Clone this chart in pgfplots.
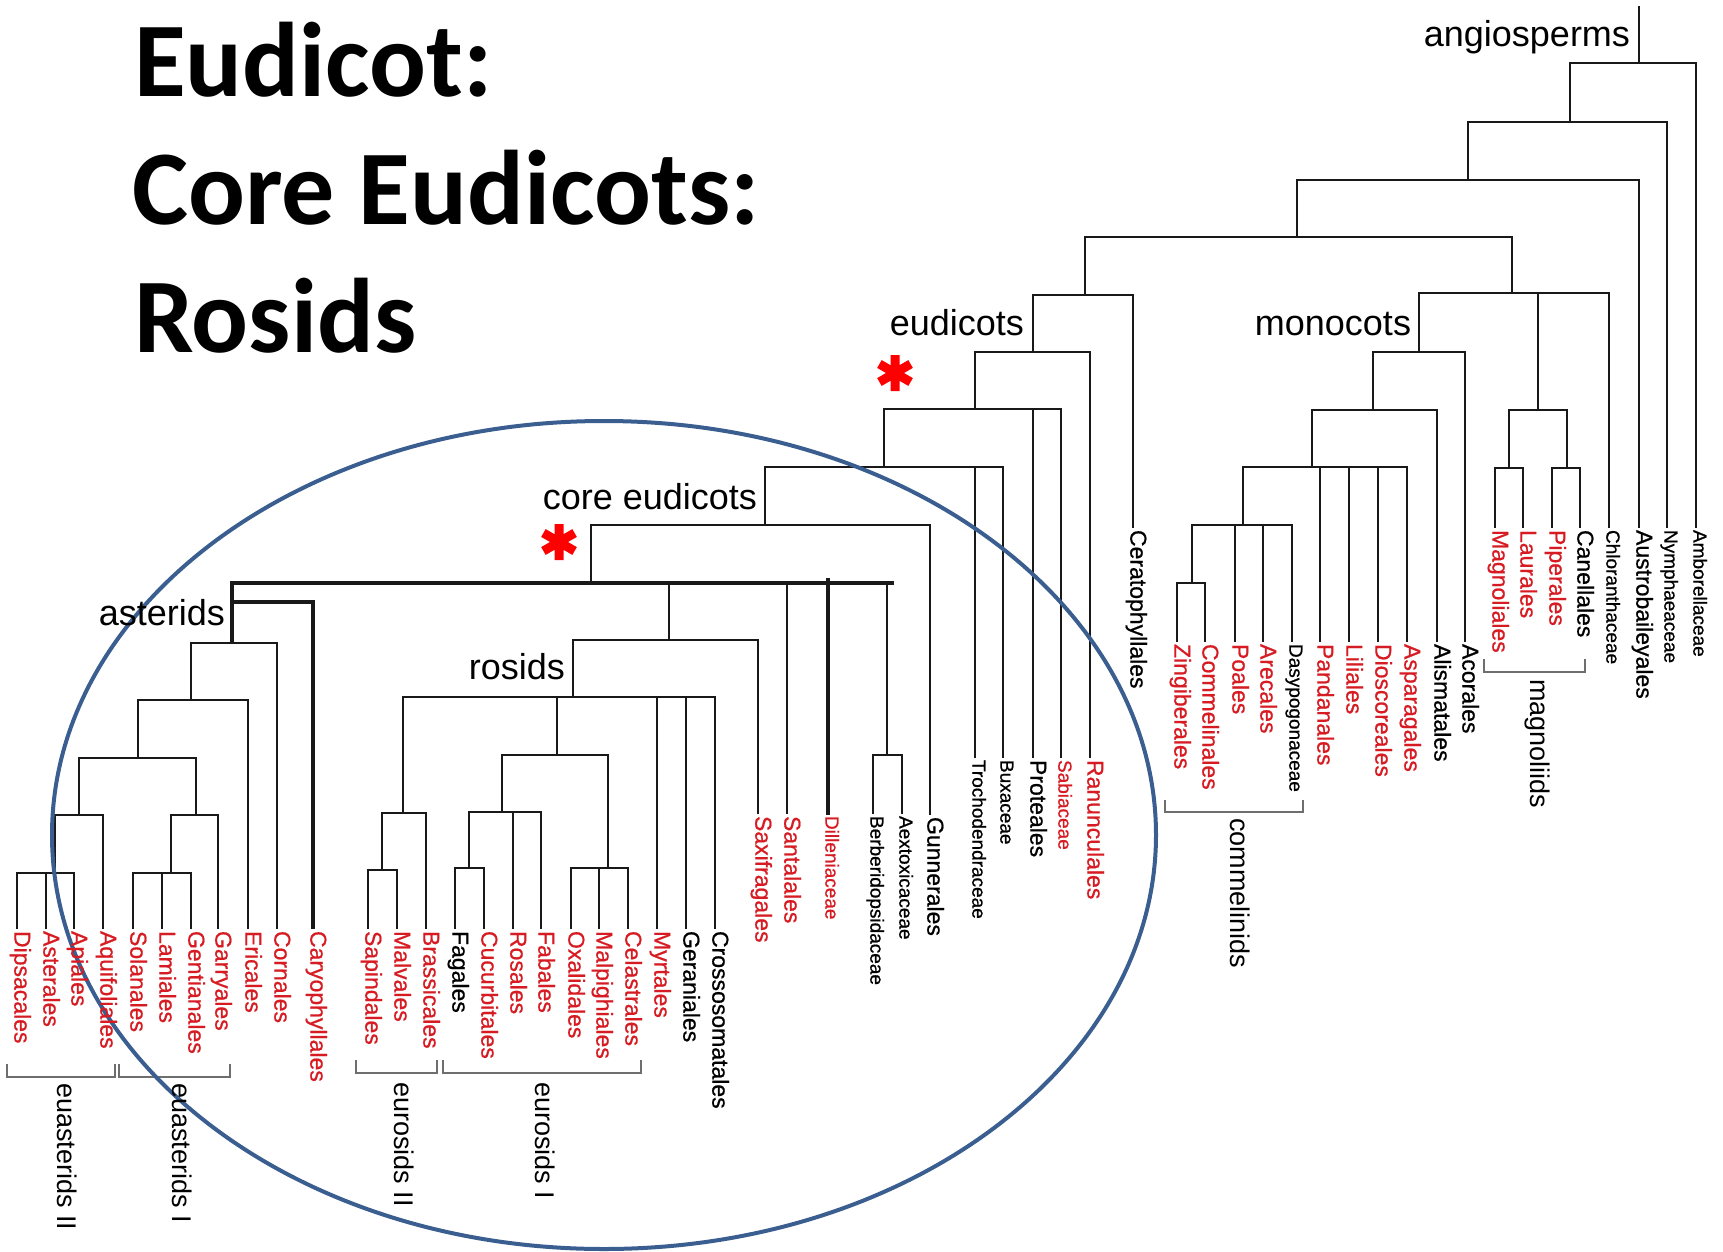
\documentclass[border=0pt]{standalone}
\usepackage{pgfplots}
\pgfplotsset{compat=1.18}
\usepackage{fontspec}
\setmainfont{Liberation Sans}
\newfontfamily\leaffont[FakeBold=0.8]{Liberation Sans}
\newfontfamily\titlefont{Carlito}
\definecolor{labred}{RGB}{214,28,34}
\definecolor{treecol}{RGB}{25,25,25}
\definecolor{ellcol}{RGB}{58,94,143}
\definecolor{brcol}{RGB}{110,110,110}
\pgfplotsset{
  br/.style={no marks, line width=2.3pt, color=treecol, line cap=rect, line join=miter},
  thk/.style={no marks, line width=4pt, color=treecol, line cap=rect, line join=miter},
  bk/.style={no marks, line width=1.6pt, color=brcol},
}
\tikzset{
  leaf/.style={rotate=-90, anchor=mid west, inner sep=0pt, outer sep=0pt, font=\leaffont\fontsize{23}{26}\selectfont},
  fam/.style={rotate=-90, anchor=mid west, inner sep=0pt, outer sep=0pt, font=\leaffont\fontsize{19}{22}\selectfont},
  clade/.style={anchor=base east, inner sep=0pt, outer sep=0pt, font=\fontsize{36}{40}\selectfont},
  grp/.style={rotate=-90, anchor=mid west, inner sep=0pt, outer sep=0pt, font=\fontsize{27}{30}\selectfont},
  ttl/.style={anchor=base west, inner sep=0pt, outer sep=0pt, font=\titlefont\bfseries\fontsize{106}{112}\selectfont},
}
\begin{document}
\begin{tikzpicture}
\begin{axis}[
  width=1723pt, height=1252pt, scale only axis,
  xmin=0, xmax=1723, ymin=0, ymax=1252, y dir=reverse,
  hide axis, clip=false,
]
% invisible frame
\addplot[draw=none, no marks] coordinates {(0,0) (1723,1252)};
% ---------- backbone ----------
\addplot[br] coordinates {(1639,7) (1639,63)};
\addplot[br] coordinates {(1570,122) (1570,63) (1696,63) (1696,527)};
\addplot[br] coordinates {(1468,180) (1468,122) (1667,122) (1667,527)};
\addplot[br] coordinates {(1297,237) (1297,180) (1639,180) (1639,527)};
\addplot[br] coordinates {(1085,295) (1085,237) (1512,237) (1512,293)};
\addplot[br] coordinates {(1419,352) (1419,293) (1609,293) (1609,527)};
% magnoliids
\addplot[br] coordinates {(1538,293) (1538,410)};
\addplot[br] coordinates {(1509,468) (1509,410) (1567,410) (1567,468)};
\addplot[br] coordinates {(1495,527) (1495,468) (1523,468) (1523,527)};
\addplot[br] coordinates {(1552,527) (1552,468) (1580,468) (1580,527)};
% monocots
\addplot[br] coordinates {(1373,410) (1373,352) (1465,352) (1465,641)};
\addplot[br] coordinates {(1312,467) (1312,410) (1437,410) (1437,641)};
\addplot[br] coordinates {(1243,525) (1243,467) (1407,467) (1407,641)};
\addplot[br] coordinates {(1320,467) (1320,641)};
\addplot[br] coordinates {(1349,467) (1349,641)};
\addplot[br] coordinates {(1378,467) (1378,641)};
\addplot[br] coordinates {(1192,583) (1192,525) (1292,525) (1292,641)};
\addplot[br] coordinates {(1235,525) (1235,641)};
\addplot[br] coordinates {(1263,525) (1263,641)};
\addplot[br] coordinates {(1177,641) (1177,583) (1205,583) (1205,641)};
% eudicots
\addplot[br] coordinates {(1033,352) (1033,295) (1133,295) (1133,527)};
\addplot[br] coordinates {(975,409) (975,352) (1090,352) (1090,757)};
\addplot[br] coordinates {(884,467) (884,409) (1061,409) (1061,757)};
\addplot[br] coordinates {(1033,409) (1033,757)};
\addplot[br] coordinates {(765,525) (765,467) (1003,467) (1003,757)};
\addplot[br] coordinates {(975,467) (975,757)};
\addplot[br] coordinates {(591,583) (591,525) (930,525) (930,814)};
% core eudicots polytomy (thick)
\addplot[thk] coordinates {(232,642) (232,583) (892,583)};
\addplot[thk] coordinates {(232,602) (313,602) (313,927)};
\addplot[thk] coordinates {(828,580) (828,813)};
\addplot[br] coordinates {(787,583) (787,813)};
\addplot[br] coordinates {(887,583) (887,755)};
\addplot[br] coordinates {(873,813) (873,755) (902,755) (902,813)};
\addplot[br] coordinates {(669,583) (669,640)};
\addplot[br] coordinates {(573,697) (573,640) (758,640) (758,813)};
% rosids
\addplot[br] coordinates {(403,813) (403,697) (715,697) (715,928)};
\addplot[br] coordinates {(557,697) (557,755)};
\addplot[br] coordinates {(657,697) (657,928)};
\addplot[br] coordinates {(686,697) (686,928)};
\addplot[br] coordinates {(502,812) (502,755) (608,755) (608,868)};
\addplot[br] coordinates {(469,868) (469,812) (541,812) (541,928)};
\addplot[br] coordinates {(513,812) (513,928)};
\addplot[br] coordinates {(455,928) (455,868) (484,868) (484,928)};
\addplot[br] coordinates {(571,928) (571,868) (628,868) (628,928)};
\addplot[br] coordinates {(599,868) (599,928)};
\addplot[br] coordinates {(382,870) (382,813) (426,813) (426,928)};
\addplot[br] coordinates {(368,928) (368,870) (397,870) (397,928)};
% asterids
\addplot[br] coordinates {(191,700) (191,643) (277,643) (277,928)};
\addplot[br] coordinates {(138,758) (138,700) (248,700) (248,928)};
\addplot[br] coordinates {(79,815) (79,758) (196,758) (196,815)};
\addplot[br] coordinates {(55,873) (55,815) (103,815) (103,928)};
\addplot[br] coordinates {(17,928) (17,873) (74,873) (74,928)};
\addplot[br] coordinates {(46,873) (46,928)};
\addplot[br] coordinates {(171,873) (171,815) (218,815) (218,928)};
\addplot[br] coordinates {(133,928) (133,873) (191,873) (191,928)};
\addplot[br] coordinates {(162,873) (162,928)};
% brackets
\addplot[bk] coordinates {(7,1064) (7,1077) (115,1077) (115,1064)};
\addplot[bk] coordinates {(119,1064) (119,1077) (230,1077) (230,1064)};
\addplot[bk] coordinates {(356,1060) (356,1073) (437,1073) (437,1060)};
\addplot[bk] coordinates {(443,1060) (443,1073) (641,1073) (641,1060)};
\addplot[bk] coordinates {(1165,800) (1165,812) (1303,812) (1303,800)};
\addplot[bk] coordinates {(1484,659) (1484,672) (1585,672) (1585,659)};
% asterisks
\addplot[only marks, mark=asterisk, mark size=18, color=red, mark options={line width=9pt}] coordinates {(895,373) (559,542)};
% ellipse
\draw[ellcol, line width=4pt] (axis cs:604,835) ellipse [x radius=552, y radius=414];
% ---------- title ----------
\node[ttl] at (axis cs:134,97) {Eudicot:};
\node[ttl] at (axis cs:132,224) {Core Eudicots:};
\node[ttl] at (axis cs:134,352) {Rosids};
% ---------- clade labels ----------
\node[clade] at (axis cs:1630,47) {angiosperms};
\node[clade] at (axis cs:1024,335) {eudicots};
\node[clade] at (axis cs:1411,335) {monocots};
\node[clade] at (axis cs:757,509) {core eudicots};
\node[clade] at (axis cs:565,679) {rosids};
\node[clade] at (axis cs:225,625) {asterids};
% group labels
\node[grp] at (axis cs:60,1083) {euasterids II};
\node[grp] at (axis cs:175,1083) {euasterids I};
\node[grp] at (axis cs:397,1082) {eurosids II};
\node[grp] at (axis cs:538,1082) {eurosids I};
\node[grp] at (axis cs:1233,818) {commelinids};
\node[grp] at (axis cs:1533,679) {magnoliids};
% ---------- leaves ----------
\node[leaf, text=labred] at (axis cs:17,931) {Dipsacales};
\node[leaf, text=labred] at (axis cs:46,931) {Asterales};
\node[leaf, text=labred] at (axis cs:74,931) {Apiales};
\node[leaf, text=labred] at (axis cs:103,931) {Aquifoliales};
\node[leaf, text=labred] at (axis cs:133,931) {Solanales};
\node[leaf, text=labred] at (axis cs:162,931) {Lamiales};
\node[leaf, text=labred] at (axis cs:191,931) {Gentianales};
\node[leaf, text=labred] at (axis cs:218,931) {Garryales};
\node[leaf, text=labred] at (axis cs:248,931) {Ericales};
\node[leaf, text=labred] at (axis cs:277,931) {Cornales};
\node[leaf, text=labred] at (axis cs:313,931) {Caryophyllales};
\node[leaf, text=labred] at (axis cs:368,931) {Sapindales};
\node[leaf, text=labred] at (axis cs:397,931) {Malvales};
\node[leaf, text=labred] at (axis cs:426,931) {Brassicales};
\node[leaf, text=black] at (axis cs:455,931) {Fagales};
\node[leaf, text=labred] at (axis cs:484,931) {Cucurbitales};
\node[leaf, text=labred] at (axis cs:513,931) {Rosales};
\node[leaf, text=labred] at (axis cs:541,931) {Fabales};
\node[leaf, text=labred] at (axis cs:571,931) {Oxalidales};
\node[leaf, text=labred] at (axis cs:599,931) {Malpighiales};
\node[leaf, text=labred] at (axis cs:628,931) {Celastrales};
\node[leaf, text=labred] at (axis cs:657,931) {Myrtales};
\node[leaf, text=black] at (axis cs:686,931) {Geraniales};
\node[leaf, text=black] at (axis cs:715,931) {Crossosomatales};
\node[leaf, text=labred] at (axis cs:758,816) {Saxifragales};
\node[leaf, text=labred] at (axis cs:787,816) {Santalales};
\node[fam, text=labred] at (axis cs:828,816) {Dilleniaceae};
\node[fam, text=black] at (axis cs:873,816) {Berberidopsidaceae};
\node[fam, text=black] at (axis cs:902,816) {Aextoxicaceae};
\node[leaf, text=black] at (axis cs:930,817) {Gunnerales};
\node[fam, text=black] at (axis cs:975,760) {Trochodendraceae};
\node[fam, text=black] at (axis cs:1003,760) {Buxaceae};
\node[leaf, text=black] at (axis cs:1033,760) {Proteales};
\node[fam, text=labred] at (axis cs:1061,760) {Sabiaceae};
\node[leaf, text=labred] at (axis cs:1090,760) {Ranunculales};
\node[leaf, text=black] at (axis cs:1133,530) {Ceratophyllales};
\node[leaf, text=labred] at (axis cs:1177,644) {Zingiberales};
\node[leaf, text=labred] at (axis cs:1205,644) {Commelinales};
\node[leaf, text=labred] at (axis cs:1235,644) {Poales};
\node[leaf, text=labred] at (axis cs:1263,644) {Arecales};
\node[fam, text=black] at (axis cs:1292,644) {Dasypogonaceae};
\node[leaf, text=labred] at (axis cs:1320,644) {Pandanales};
\node[leaf, text=labred] at (axis cs:1349,644) {Liliales};
\node[leaf, text=labred] at (axis cs:1378,644) {Dioscoreales};
\node[leaf, text=labred] at (axis cs:1407,644) {Asparagales};
\node[leaf, text=black] at (axis cs:1437,644) {Alismatales};
\node[leaf, text=black] at (axis cs:1465,644) {Acorales};
\node[leaf, text=labred] at (axis cs:1495,530) {Magnoliales};
\node[leaf, text=labred] at (axis cs:1523,530) {Laurales};
\node[leaf, text=labred] at (axis cs:1552,530) {Piperales};
\node[leaf, text=black] at (axis cs:1580,530) {Canellales};
\node[fam, text=black] at (axis cs:1609,530) {Chloranthaceae};
\node[leaf, text=black] at (axis cs:1639,530) {Austrobaileyales};
\node[fam, text=black] at (axis cs:1667,530) {Nymphaeaceae};
\node[fam, text=black] at (axis cs:1696,530) {Amborellaceae};
\end{axis}
\end{tikzpicture}
\end{document}
